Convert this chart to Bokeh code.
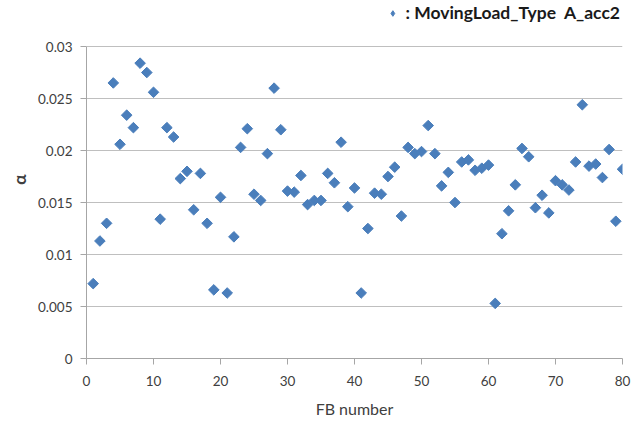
import numpy as np
from bokeh.plotting import figure
from bokeh.models import FixedTicker, Legend, LegendItem, ColumnDataSource
from bokeh.embed import file_html
from bokeh.resources import INLINE

fb_number = list(range(1, 81))
alpha = [
    0.0072, 0.0113, 0.0130, 0.0265, 0.0206, 0.0234, 0.0222, 0.0284, 0.0275, 0.0256,
    0.0134, 0.0222, 0.0213, 0.0173, 0.0180, 0.0143, 0.0178, 0.0130, 0.0066, 0.0155,
    0.0063, 0.0117, 0.0203, 0.0221, 0.0158, 0.0152, 0.0197, 0.0260, 0.0220, 0.0161,
    0.0160, 0.0176, 0.0148, 0.0152, 0.0152, 0.0178, 0.0169, 0.0208, 0.0146, 0.0164,
    0.0063, 0.0125, 0.0159, 0.0158, 0.0175, 0.0184, 0.0137, 0.0203, 0.0197, 0.0199,
    0.0224, 0.0197, 0.0166, 0.0179, 0.0150, 0.0189, 0.0191, 0.0181, 0.0183, 0.0186,
    0.0053, 0.0120, 0.0142, 0.0167, 0.0202, 0.0194, 0.0145, 0.0157, 0.0140, 0.0171,
    0.0167, 0.0162, 0.0189, 0.0244, 0.0185, 0.0187, 0.0174, 0.0201, 0.0132, 0.0182,
]
y_ticks = [0, 0.005, 0.01, 0.015, 0.02, 0.025, 0.03]
y_tick_labels = ["0", "0.005", "0.01", "0.015", "0.02", "0.025", "0.03"]
x_ticks = [0, 10, 20, 30, 40, 50, 60, 70, 80]
series_name = ": MovingLoad_Type  A_acc2"

FONT = "Lato"
TXT = "#404040"
BLUE = "#4A7EBB"

# frame extends to the top of the canvas so the legend (inside it) is visible;
# the data axis itself stops at 0.03 (axis bounds)
Y_TOP = 0.03 * 357.7 / 311.7

p = figure(width=642, height=425, x_range=(0, 80), y_range=(0, Y_TOP),
           output_backend="svg", toolbar_location=None,
           min_border_left=86, min_border_right=20, min_border_top=0,
           min_border_bottom=67)
p.outline_line_color = None
p.background_fill_color = "white"

src = ColumnDataSource(dict(x=fb_number, y=alpha))
r = p.scatter("x", "y", source=src, marker="square", angle=np.pi / 4, size=7.5,
              fill_color=BLUE, line_color=BLUE)
# renderer used only for the legend swatch (one invisible NaN point)
leg_src = ColumnDataSource(dict(x=[np.nan], y=[np.nan]))
leg_r = p.scatter("x", "y", source=leg_src, marker="diamond", size=12,
                  fill_color=BLUE, line_color=BLUE)

p.xgrid.grid_line_color = None
p.ygrid.grid_line_color = "#BFBFBF"
p.ygrid.grid_line_width = 1

p.xaxis.ticker = FixedTicker(ticks=x_ticks)
p.yaxis.ticker = FixedTicker(ticks=y_ticks)
p.yaxis.bounds = (0, 0.03)
p.yaxis.major_label_overrides = {t: l for t, l in zip(y_ticks, y_tick_labels)}
for ax in (p.xaxis, p.yaxis):
    ax.axis_line_color = "#A6A6A6"
    ax.major_tick_line_color = "#A6A6A6"
    ax.major_tick_out = 6
    ax.major_tick_in = 0
    ax.minor_tick_line_color = None
    ax.major_label_text_font = FONT
    ax.major_label_text_font_size = "13.5px"
    ax.major_label_text_color = TXT
    ax.axis_label_text_font = FONT
    ax.axis_label_text_color = TXT

p.xaxis.major_label_standoff = 11
p.xaxis.axis_label = "FB number"
p.xaxis.axis_label_text_font_size = "16px"
p.xaxis.axis_label_text_font_style = "normal"
p.xaxis.axis_label_standoff = 10

p.yaxis.major_label_standoff = 8
p.yaxis.axis_label = "α"
p.yaxis.axis_label_text_font_size = "17px"
p.yaxis.axis_label_text_font_style = "bold"
p.yaxis.axis_label_standoff = 5

legend = Legend(items=[LegendItem(label=series_name, renderers=[leg_r])],
                location="top_right", orientation="horizontal",
                margin=2, padding=2, spacing=0, glyph_width=14, glyph_height=14,
                label_standoff=6, border_line_color=None,
                background_fill_alpha=0)
legend.label_text_font = FONT
legend.label_text_font_size = "17.5px"
legend.label_text_font_style = "bold"
legend.label_text_color = "#1A1A1A"
p.add_layout(legend, "center")

open("out.html", "w").write(file_html(p, INLINE))
